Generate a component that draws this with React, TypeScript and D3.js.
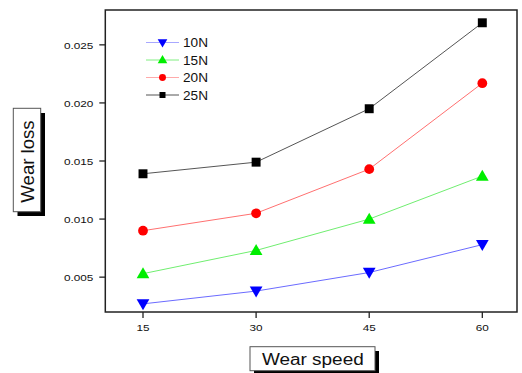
import React from "react";
import * as d3 from "d3";

const speeds = [15, 30, 45, 60];
const loss10N = [0.0027, 0.0038, 0.0054, 0.0078];
const loss15N = [0.0053, 0.0073, 0.0100, 0.0137];
const loss20N = [0.0090, 0.0105, 0.0143, 0.0217];
const loss25N = [0.0139, 0.0149, 0.0195, 0.0269];
const seriesNames = ["10N", "15N", "20N", "25N"];
const yTicks = [0.005, 0.01, 0.015, 0.02, 0.025];

const W = 522, H = 373;
const FONT = "'Liberation Sans', Arial, sans-serif";
const SX = 1.2;

const styles = [
  { line: "#6b6bff", legendLine: "#a8a8ff", fill: "#0000ff", sym: d3.symbolTriangle, rot: 180, size: 70, lsize: 40 },
  { line: "#70ee70", legendLine: "#80ee80", fill: "#00ee00", sym: d3.symbolTriangle, rot: 0, size: 70, lsize: 40 },
  { line: "#ff7070", legendLine: "#ffaaaa", fill: "#ff0000", sym: d3.symbolCircle, rot: 0, size: 75, lsize: 38 },
  { line: "#555555", legendLine: "#555555", fill: "#000000", sym: d3.symbolSquare, rot: 0, size: 80, lsize: 36 },
];

export default function App() {
  const x = d3.scaleLinear().domain([10, 64.6]).range([105.3, 517]);
  const y = d3.scaleLinear().domain([0.002, 0.028]).range([312, 10]);
  const data = [loss10N, loss15N, loss20N, loss25N];
  const line = d3.line<[number, number]>().x(d => x(d[0])).y(d => y(d[1]));
  const left = x.range()[0], right = x.range()[1];
  const top = y.range()[1], bottom = y.range()[0];
  const legendY = [42.5, 60, 77.5, 95];

  return (
    <svg width={W} height={H} style={{ position: "absolute", left: 0, top: 0, background: "#fff" }} fontFamily={FONT}>
      <rect x={0} y={0} width={W} height={H} fill="#fff" />
      {/* frame */}
      <rect x={left} y={top} width={right - left} height={bottom - top} fill="none" stroke="#222" strokeWidth={1.5} />
      {/* y ticks */}
      {yTicks.map(t => (
        <g key={"y" + t}>
          <line x1={left - 6} x2={left} y1={y(t)} y2={y(t)} stroke="#222" strokeWidth={1.3} />
          <text transform={`translate(${left - 12},${y(t) + 3.7}) scale(${SX},1)`} fontSize={9.8} textAnchor="end" fill="#111">
            {d3.format(".3f")(t)}
          </text>
        </g>
      ))}
      {/* x ticks */}
      {speeds.map(s => (
        <g key={"x" + s}>
          <line x1={x(s)} x2={x(s)} y1={bottom} y2={bottom + 6} stroke="#222" strokeWidth={1.3} />
          <text transform={`translate(${x(s)},${bottom + 19}) scale(${SX},1)`} fontSize={9.8} textAnchor="middle" fill="#111">
            {s}
          </text>
        </g>
      ))}
      {/* series */}
      {data.map((vals, i) => {
        const pts = speeds.map((s, j) => [s, vals[j]] as [number, number]);
        const st = styles[i];
        return (
          <g key={"s" + i}>
            <path d={line(pts) || ""} fill="none" stroke={st.line} strokeWidth={1} />
            {pts.map((p, j) => (
              <path key={j} d={d3.symbol().type(st.sym).size(st.size)() || ""}
                transform={`translate(${x(p[0])},${y(p[1]) + (st.sym === d3.symbolTriangle ? (st.rot ? -1 : 1) : 0)}) rotate(${st.rot})`}
                fill={st.fill} />
            ))}
          </g>
        );
      })}
      {/* legend */}
      {seriesNames.map((n, i) => {
        const st = styles[i];
        const ly = legendY[i];
        return (
          <g key={"l" + n}>
            <line x1={146} x2={179} y1={ly} y2={ly} stroke={st.legendLine} strokeWidth={1} />
            <path d={d3.symbol().type(st.sym).size(st.lsize)() || ""}
              transform={`translate(162.5,${ly + (st.sym === d3.symbolTriangle ? (st.rot ? -0.5 : 0.5) : 0)}) rotate(${st.rot})`} fill={st.fill} />
            <text transform={`translate(183,${ly + 4.6}) scale(1.08,1)`} fontSize={12.6} fill="#111">{n}</text>
          </g>
        );
      })}
      {/* y title box */}
      <rect x={17.5} y={113} width={27.5} height={103} fill="#000" />
      <rect x={13.3} y={108.3} width={27.4} height={103.4} fill="#fff" stroke="#555" strokeWidth={1} />
      <text transform={`translate(33.5,161.5) rotate(-90)`} fontSize={18.6} textAnchor="middle" fill="#111">Wear loss</text>
      {/* x title box */}
      <rect x={254} y={351} width={125} height={30} fill="#000" />
      <rect x={250} y={346.7} width={125} height={24} fill="#fff" stroke="#555" strokeWidth={1} />
      <text transform={`translate(312.8,364.5) scale(${SX},1)`} fontSize={15.8} textAnchor="middle" fill="#111">Wear speed</text>
    </svg>
  );
}
